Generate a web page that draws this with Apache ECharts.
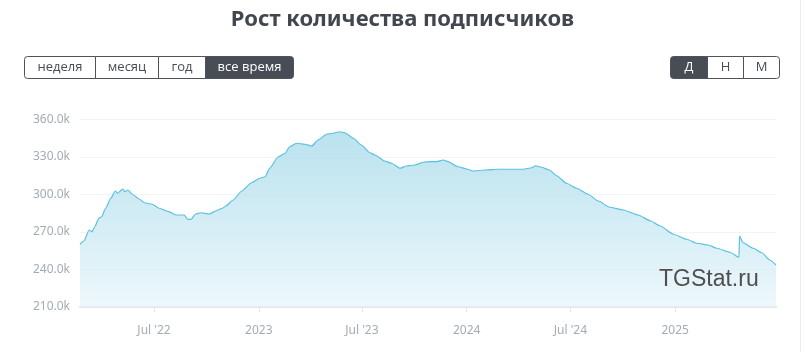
<!DOCTYPE html>
<html>
<head>
<meta charset="utf-8">
<script src="https://cdn.jsdelivr.net/npm/echarts@6/dist/echarts.min.js"></script>
<style>
  html, body { margin: 0; padding: 0; background: #fff; }
  #chart { width: 805px; height: 352px; }
</style>
</head>
<body>
<div id="chart"></div>
<script>
// данные (подписчики)
var dates = [
  '2022-02-21','2022-02-28','2022-03-09','2022-03-14','2022-03-19','2022-03-26','2022-03-31',
  '2022-04-07','2022-04-16','2022-04-24','2022-04-28','2022-05-07','2022-05-11','2022-05-16',
  '2022-05-24','2022-06-05','2022-06-14','2022-06-28','2022-07-10','2022-07-27','2022-08-08',
  '2022-08-23','2022-08-29','2022-09-04','2022-09-12','2022-09-21','2022-10-06','2022-10-18',
  '2022-10-29','2022-11-04','2022-11-17','2022-12-02','2022-12-19','2023-01-03','2023-01-12',
  '2023-01-20','2023-02-04','2023-02-16','2023-02-24','2023-03-08','2023-03-23','2023-04-04',
  '2023-04-15','2023-04-30','2023-05-11','2023-05-23','2023-06-01','2023-06-16','2023-06-30',
  '2023-07-15','2023-07-24','2023-08-10','2023-08-22','2023-09-06','2023-09-17','2023-10-02',
  '2023-10-17','2023-10-31','2023-11-09','2023-11-21','2023-11-29','2023-12-17','2024-01-01',
  '2024-01-12','2024-02-02','2024-02-25','2024-03-20','2024-04-09','2024-04-24','2024-05-01',
  '2024-05-11','2024-05-25','2024-06-07','2024-06-24','2024-07-12','2024-08-01','2024-08-19',
  '2024-09-08','2024-10-02','2024-10-28','2024-11-18','2024-12-05','2024-12-29','2025-01-21',
  '2025-02-08','2025-02-28','2025-03-15','2025-04-07','2025-04-23','2025-04-24','2025-04-30',
  '2025-05-18','2025-06-02','2025-06-16','2025-06-27'
];
var subscribers = [
  260200, 262800, 271600, 270200, 274200, 281000, 282200,
  289000, 297000, 302800, 301000, 304400, 302200, 303600,
  300200, 296400, 293400, 292200, 289000, 286300, 283600,
  283600, 280100, 280100, 284400, 285400, 284400, 287000,
  289000, 290800, 295600, 302800, 309400, 313000, 314200,
  321000, 330200, 333000, 338200, 341000, 340200, 338800,
  343600, 348200, 349000, 350200, 349400, 345000, 339600,
  333400, 331600, 326800, 325000, 321000, 322800, 323600,
  325800, 326300, 326300, 327600, 326300, 322200, 320400,
  318800, 319600, 320200, 320200, 320200, 321400, 323000,
  321800, 319600, 315000, 309000, 305000, 300200, 294800,
  289800, 287600, 283600, 279000, 275000, 268200, 264200,
  261000, 259600, 257000, 253800, 249800, 266800, 261400,
  257000, 253400, 247600, 243600
];
var tickDates = ['2022-07-01','2023-01-01','2023-07-01','2024-01-01','2024-07-01','2025-01-01'];
var periodLabels = ['неделя', 'месяц', 'год', 'все время'];
var scaleLabels = ['Д', 'Н', 'М'];

function ts(d) { return Date.parse(d + 'T00:00:00Z'); }

var chart = echarts.init(document.getElementById('chart'));

var seriesData = [];
for (var i = 0; i < dates.length; i++) {
  seriesData.push([ts(dates[i]), subscribers[i]]);
}
var tickValues = tickDates.map(ts);

// кнопки-переключатели
function buttonGroup(labels, edges, active) {
  var els = [];
  var y = 56.5, h = 22;
  for (var i = 0; i < labels.length; i++) {
    var on = i === active;
    var r = [0, 0, 0, 0];
    if (i === 0) r = [3, 0, 0, 3];
    if (i === labels.length - 1) r = [0, 3, 3, 0];
    els.push({
      type: 'rect',
      shape: { x: edges[i] + 0.5, y: y, width: edges[i + 1] - edges[i], height: h, r: r },
      style: { fill: on ? '#474c55' : '#fff', stroke: '#4e535b', lineWidth: 1 }
    });
    els.push({
      type: 'text',
      x: (edges[i] + edges[i + 1]) / 2 + 0.5,
      y: y + h / 2,
      style: {
        text: labels[i], fill: on ? '#fff' : '#474c55',
        font: '13px "Open Sans", sans-serif', align: 'center', verticalAlign: 'middle'
      }
    });
  }
  return els;
}

var graphics = []
  .concat(buttonGroup(periodLabels, [24, 95, 158, 205, 293], 3))
  .concat(buttonGroup(scaleLabels, [670, 707, 743, 779], 0));
graphics.push({
  type: 'line', shape: { x1: 800.5, y1: 0, x2: 800.5, y2: 352 },
  style: { stroke: '#ececec', lineWidth: 1 }
});
graphics.push({
  type: 'text', x: 659, y: 268, z: 100,
  style: { text: 'TGStat.ru', fill: '#4f4f4f', font: '23px "Liberation Sans", Arial, sans-serif' }
});

var option = {
  animation: false,
  backgroundColor: '#fff',
  title: {
    text: 'Рост количества подписчиков',
    left: 'center',
    top: 4,
    textStyle: { fontFamily: 'Noto Sans', fontWeight: 'bold', fontSize: 22, color: '#41464f' }
  },
  grid: { left: 80, right: 29, top: 119.5, bottom: 45 },
  xAxis: {
    type: 'value',
    min: ts(dates[0]),
    max: ts(dates[dates.length - 1]),
    axisLine: { lineStyle: { color: '#e3e5e8', width: 2 } },
    axisTick: { show: true, length: 5, lineStyle: { color: '#e3e5e8' }, customValues: tickValues },
    axisLabel: {
      customValues: tickValues,
      margin: 18,
      color: '#a4abb6',
      fontSize: 12,
      fontFamily: 'Noto Sans',
      formatter: function (v) {
        var d = new Date(v);
        var yy = d.getUTCFullYear();
        if (d.getUTCMonth() === 0) return String(yy);
        return "Jul '" + String(yy).slice(2);
      }
    },
    splitLine: { show: false }
  },
  yAxis: {
    type: 'value',
    min: 210000,
    max: 360000,
    interval: 30000,
    axisLine: { show: false },
    axisTick: { show: false },
    axisLabel: {
      margin: 10,
      color: '#a4abb6',
      fontSize: 12,
      fontFamily: 'Noto Sans',
      formatter: function (v) { return (v / 1000).toFixed(1) + 'k'; }
    },
    splitLine: { lineStyle: { color: '#f3f4f5' } }
  },
  series: [{
    type: 'line',
    data: seriesData,
    showSymbol: false,
    smooth: 0.2,
    smoothMonotone: 'x',
    lineStyle: { color: '#59c0de', width: 1.2 },
    areaStyle: {
      color: new echarts.graphic.LinearGradient(0, 0, 0, 1, [
        { offset: 0, color: '#9dd6e8' },
        { offset: 1, color: '#e5f4fa' }
      ])
    }
  }],
  graphic: graphics
};
chart.setOption(option);
</script>
</body>
</html>
